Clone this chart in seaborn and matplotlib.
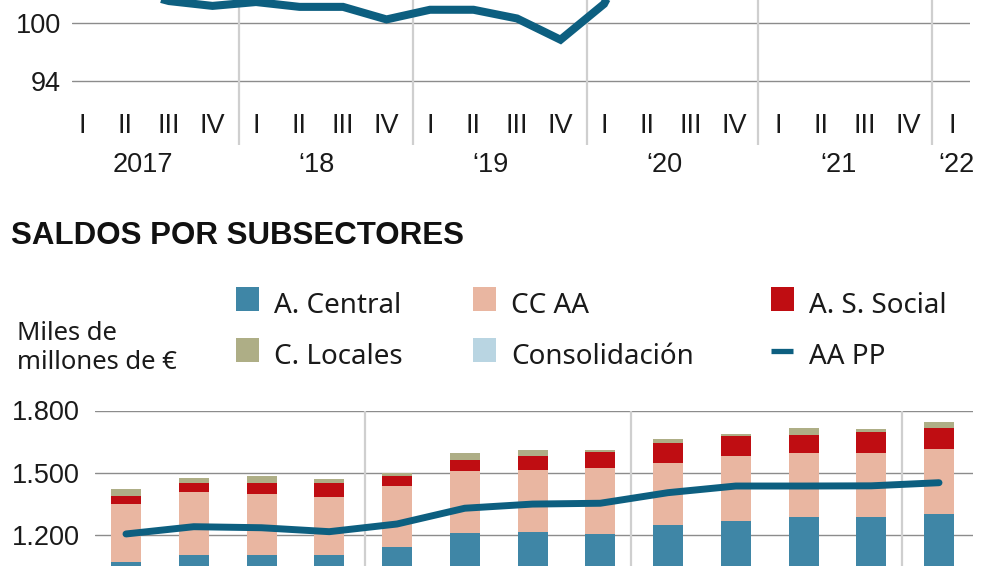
import numpy as np
import pandas as pd
import matplotlib
matplotlib.use("Agg")
import matplotlib.pyplot as plt
import matplotlib.transforms as mtransforms
from matplotlib.patches import Rectangle
from matplotlib.lines import Line2D
import seaborn as sns

# ---------------- data ----------------
top_quarters = ["I", "II", "III", "IV"] * 5 + ["I"]
top_years = ["2017", "\u201818", "\u201819", "\u201820", "\u201821", "\u201822"]
top_values = [103.8, 103.5, 102.3, 101.8, 102.2, 101.7, 101.7, 100.4, 101.4, 101.4,
              100.5, 98.3, 102.0, 110.5, 114.0, 120.0, 125.0, 122.5, 122.0, 118.5, 117.5]
top_yticks = [94, 100]

periods = ["2019-I", "2019-II", "2019-III", "2019-IV",
           "2020-I", "2020-II", "2020-III", "2020-IV",
           "2021-I", "2021-II", "2021-III", "2021-IV", "2022-I"]
a_central = [1070, 1104, 1104, 1104, 1141, 1208, 1214, 1206, 1248, 1266, 1287, 1287, 1303]
cc_aa = [279, 302, 295, 279, 295, 299, 301, 315, 300, 316, 308, 308, 310]
as_social = [37, 46, 53, 69, 50, 55, 64, 77, 97, 94, 86, 101, 101]
c_locales = [38, 24, 32, 16, 11, 33, 32, 14, 16, 12, 33, 13, 32]
consolidacion = [-220, -236, -249, -252, -244, -266, -262, -260, -257, -252, -278, -272, -294]
aa_pp = [1205, 1240, 1235, 1216, 1253, 1329, 1349, 1353, 1404, 1436, 1436, 1437, 1452]
bottom_yticks = [1200, 1500, 1800]
bottom_yticklabels = ["1.200", "1.500", "1.800"]

series_names = ["A. Central", "CC AA", "A. S. Social", "C. Locales", "Consolidación", "AA PP"]

# ---------------- style ----------------
C_CENTRAL = "#3f86a6"
C_CCAA = "#e9b6a1"
C_SS = "#bf0d12"
C_LOC = "#aeae86"
C_CONS = "#b9d5e2"
C_LINE = "#0d5f80"
C_GRID = "#8c8c8c"
C_SEP = "#cfcfcf"

sns.set_theme(style="white")
plt.rcParams["font.family"] = ["Liberation Sans", "DejaVu Sans"]

W, H = 1006, 566
fig = plt.figure(figsize=(W / 100, H / 100), dpi=100)
fig.patch.set_facecolor("white")


def fx(px):
    return px / W


def fy(py):
    return 1 - py / H


# ---------------- top chart ----------------
ax1 = fig.add_axes([fx(72), fy(145), fx(970) - fx(72), fy(0) - fy(145)])
ax1.set_facecolor("none")
px_per_unit = (81.3 - 23.3) / 6.0
ax1.set_ylim(100 - (145 - 23.3) / px_per_unit, 100 + 23.3 / px_per_unit)
qstep = 43.5
ax1.set_xlim(-(82 - 72) / qstep, (970 - 82) / qstep)

for v in top_yticks:
    ax1.axhline(v, color=C_GRID, lw=1.0, zorder=1)
for sx in [3.62, 7.62, 11.6, 15.55, 19.55]:
    ax1.axvline(sx, color=C_SEP, lw=1.6, zorder=1)

tq = pd.DataFrame({"idx": np.arange(len(top_values)), "valor": top_values})
n_before = len(ax1.lines)
sns.lineplot(data=tq, x="idx", y="valor", ax=ax1, color=C_LINE, linewidth=5.8,
             zorder=3)
for ln in ax1.lines[n_before:]:
    ln.set_linewidth(5.8)
    ln.set_solid_joinstyle("miter")
    ln.set_solid_capstyle("butt")

ax1.set_yticks(top_yticks)
ax1.set_yticklabels([str(v) for v in top_yticks], fontsize=19.5, color="#1a1a1a")
ax1.tick_params(axis="y", length=0, pad=8)
ax1.set_xticks([])
ax1.set_xlabel("")
ax1.set_ylabel("")
for s in ax1.spines.values():
    s.set_visible(False)

trans1 = mtransforms.blended_transform_factory(ax1.transData, ax1.transAxes)
for i, q in enumerate(top_quarters):
    ax1.text(i, 1 - 126 / 145, q, transform=trans1, ha="center", va="center",
             fontsize=19.5, color="#1a1a1a", clip_on=False)
for k, yr in enumerate(top_years):
    if k < 5:
        cx = 4 * k + 1.4
    else:
        cx = 20.1
    ax1.text(cx, 1 - 165.5 / 145, yr, transform=trans1, ha="center", va="center",
             fontsize=19.5, color="#1a1a1a", clip_on=False)

# ---------------- title / legend ----------------
fig.text(fx(11), fy(244), "SALDOS POR SUBSECTORES", fontsize=22.5, fontweight="bold",
         color="#111111", ha="left", va="baseline")

leg_font = ["Noto Sans", "DejaVu Sans"]
fig.text(fx(17), fy(340), "Miles de", fontsize=18.5, family=leg_font, color="#1a1a1a",
         ha="left", va="baseline")
fig.text(fx(17), fy(369), "millones de \u20ac", fontsize=18.5, family=leg_font,
         color="#1a1a1a", ha="left", va="baseline")

leg_items = [
    (series_names[0], C_CENTRAL, 236, 287, "patch"),
    (series_names[1], C_CCAA, 473, 287, "patch"),
    (series_names[2], C_SS, 771, 287, "patch"),
    (series_names[3], C_LOC, 236, 338, "patch"),
    (series_names[4], C_CONS, 473, 338, "patch"),
    (series_names[5], C_LINE, 771, 338, "line"),
]
for name, col, x0, y0, kind in leg_items:
    if kind == "patch":
        fig.add_artist(Rectangle((fx(x0), fy(y0 + 23.5)), fx(23), 23.5 / H,
                                 transform=fig.transFigure, facecolor=col,
                                 edgecolor="none"))
    else:
        fig.add_artist(Line2D([fx(x0), fx(x0 + 22)], [fy(350.5), fy(350.5)],
                              transform=fig.transFigure, color=col, linewidth=3.8,
                              solid_capstyle="butt"))
    fig.text(fx(x0 + 38), fy(y0 + 26), name, fontsize=20, family=leg_font,
             color="#1a1a1a", ha="left", va="baseline")

# ---------------- bottom chart ----------------
ax2 = fig.add_axes([fx(95), 0, fx(973) - fx(95), fy(410.5)])
ax2.set_facecolor("none")
units_per_px = 600 / (535 - 410.5)
bstep = 67.75

cum1 = np.array(a_central)
cum2 = cum1 + np.array(cc_aa)
cum3 = cum2 + np.array(as_social)
cum4 = cum3 + np.array(c_locales)

for v in bottom_yticks:
    ax2.axhline(v, color=C_GRID, lw=1.0, zorder=0)
for sx in [3.53, 7.45, 11.45]:
    ax2.axvline(sx, color=C_SEP, lw=1.6, zorder=0)

bw = 30 / bstep
for vals, col in [(cum4, C_LOC), (cum3, C_SS), (cum2, C_CCAA), (cum1, C_CENTRAL),
                  (consolidacion, C_CONS)]:
    sns.barplot(x=periods, y=list(vals), order=periods, color=col, saturation=1,
                width=bw, ax=ax2, linewidth=0, zorder=2)

n_before = len(ax2.lines)
sns.lineplot(x=np.arange(len(periods)), y=aa_pp, ax=ax2, color=C_LINE, linewidth=5.0,
             zorder=4)
for ln in ax2.lines[n_before:]:
    ln.set_linewidth(5.0)
    ln.set_solid_joinstyle("round")
    ln.set_solid_capstyle("round")

ax2.set_xlim(-(126 - 95) / bstep, 12 + (973 - 939) / bstep)
ax2.set_ylim(1800 - (566 - 410.5) * units_per_px, 1800)
ax2.set_yticks(bottom_yticks)
ax2.set_yticklabels(bottom_yticklabels, fontsize=19.5, color="#1a1a1a")
ax2.tick_params(axis="y", length=0, pad=11)
ax2.tick_params(axis="x", length=0, labelbottom=False)
ax2.set_xlabel("")
ax2.set_ylabel("")
for s in ax2.spines.values():
    s.set_visible(False)

fig.savefig("out.png", dpi=100, facecolor="white")
